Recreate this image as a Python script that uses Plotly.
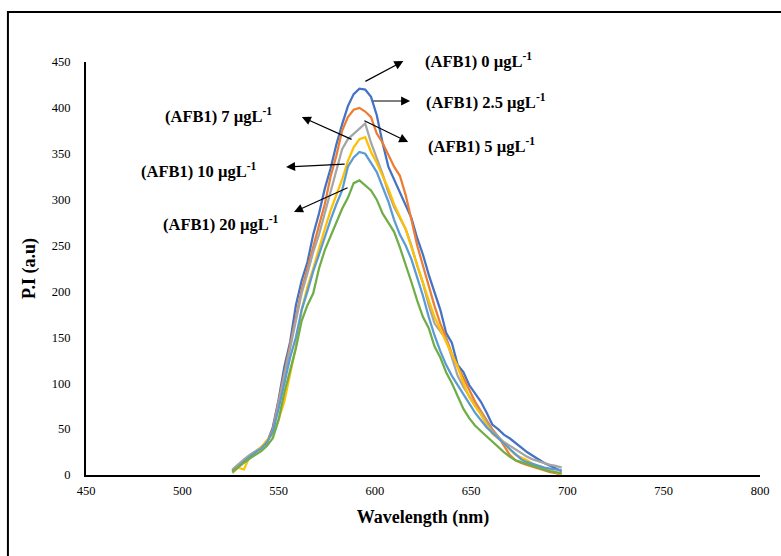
import plotly.graph_objects as go

wavelength = list(range(526, 698, 3))

pi_0 = [5, 11, 15, 20, 24, 29, 35, 52, 82, 118, 145, 185, 212, 232, 262, 285, 312, 334, 360, 382, 402, 415, 421, 420, 412, 392,
        362, 336, 322, 308, 295, 280, 258, 240, 218, 200, 180, 155, 144, 120, 112, 98, 89, 80, 68, 55, 50, 44, 40, 35, 29, 25,
        21, 17, 13, 10, 7, 4]
pi_2_5 = [4, 10, 16, 21, 25, 30, 36, 50, 80, 112, 140, 172, 202, 225, 250, 272, 295, 325, 348, 375, 390, 398, 400, 396, 390, 372,
          362, 348, 336, 326, 305, 278, 250, 228, 205, 184, 165, 150, 132, 118, 106, 92, 80, 70, 60, 50, 42, 32, 22, 16, 13, 11,
          9, 7, 5, 3, 2, 0]
pi_5 = [6, 12, 17, 22, 26, 30, 36, 48, 78, 108, 136, 168, 198, 220, 243, 262, 285, 310, 332, 355, 366, 372, 378, 383, 362, 345,
        328, 308, 292, 280, 268, 250, 228, 209, 185, 165, 156, 148, 128, 108, 96, 86, 76, 68, 58, 48, 42, 36, 32, 28, 24, 20,
        17, 15, 13, 11, 10, 8]
pi_7 = [2, 8, 6, 20, 25, 30, 38, 44, 60, 80, 110, 140, 180, 205, 225, 248, 268, 288, 305, 322, 342, 357, 366, 368, 352, 340,
        326, 312, 295, 282, 268, 248, 228, 210, 190, 172, 158, 145, 130, 118, 100, 85, 75, 66, 55, 45, 40, 35, 28, 22, 19, 16,
        12, 9, 7, 5, 3, 1]
pi_10 = [3, 9, 14, 20, 25, 29, 36, 47, 72, 100, 128, 150, 180, 200, 222, 240, 260, 278, 295, 310, 336, 346, 352, 350, 340, 330,
         314, 298, 278, 262, 250, 235, 215, 195, 172, 152, 135, 120, 108, 98, 88, 78, 68, 60, 52, 46, 40, 34, 28, 22, 17, 14,
         12, 10, 8, 7, 6, 5]
pi_20 = [4, 9, 13, 18, 22, 26, 32, 40, 60, 90, 114, 138, 168, 185, 198, 225, 245, 260, 274, 290, 302, 318, 321, 316, 310, 300,
         285, 275, 265, 248, 230, 210, 190, 172, 160, 140, 128, 112, 100, 85, 72, 62, 54, 48, 42, 36, 30, 25, 20, 16, 14, 12,
         10, 8, 6, 4, 3, 2]

series_names = ["(AFB1) 0 µgL-1", "(AFB1) 2.5 µgL-1", "(AFB1) 5 µgL-1",
                "(AFB1) 7 µgL-1", "(AFB1) 10 µgL-1", "(AFB1) 20 µgL-1"]
series_values = [pi_0, pi_2_5, pi_5, pi_7, pi_10, pi_20]
series_colors = ["#4472C4", "#ED7D31", "#A5A5A5", "#FFC000", "#5B9BD5", "#70AD47"]

label_texts = ["(AFB1) 0 µgL<sup>-1</sup>", "(AFB1) 2.5 µgL<sup>-1</sup>", "(AFB1) 5 µgL<sup>-1</sup>",
               "(AFB1) 7 µgL<sup>-1</sup>", "(AFB1) 10 µgL<sup>-1</sup>", "(AFB1) 20 µgL<sup>-1</sup>"]
label_x = [625.0, 625.5, 626.5, 489.9, 477.5, 488.9]
label_y = [452, 407.5, 359.5, 392, 332, 274.5]
arrow_tail_x = [594.3, 598.4, 593.8, 588.7, 585.1, 586.6]
arrow_tail_y = [428, 407.5, 386.8, 365, 338.9, 313.8]
arrow_head_x = [614.8, 618.3, 617.3, 562.1, 553.9, 558.0]
arrow_head_y = [451, 407.5, 362.8, 390, 335.6, 286.6]

x_ticks = [450, 500, 550, 600, 650, 700, 750, 800]
y_ticks = [0, 50, 100, 150, 200, 250, 300, 350, 400, 450]
X_RANGE = [450, 800]
Y_RANGE = [0, 450]

FONT = "Liberation Serif"

fig = go.Figure()
for name, vals, col in zip(series_names, series_values, series_colors):
    fig.add_trace(go.Scatter(x=wavelength, y=vals, mode="lines", name=name,
                             line=dict(color=col, width=2.25), showlegend=False))

annotations = []
for t, lx, ly in zip(label_texts, label_x, label_y):
    annotations.append(dict(x=(lx - X_RANGE[0]) / (X_RANGE[1] - X_RANGE[0]),
                            y=(ly - Y_RANGE[0]) / (Y_RANGE[1] - Y_RANGE[0]),
                            xref="paper", yref="paper", text="<b>" + t + "</b>", showarrow=False,
                            xanchor="left", yanchor="middle",
                            font=dict(family=FONT, size=16.5, color="#000000")))
for tx, ty, hx, hy in zip(arrow_tail_x, arrow_tail_y, arrow_head_x, arrow_head_y):
    annotations.append(dict(x=hx, y=hy, ax=tx, ay=ty, xref="x", yref="y", axref="x", ayref="y",
                            text="", showarrow=True, arrowhead=2, arrowsize=1.5, arrowwidth=1.2,
                            arrowcolor="#000000"))

fig.update_layout(
    width=781, height=556,
    margin=dict(l=86, r=13, t=62, b=81),
    paper_bgcolor="white", plot_bgcolor="white",
    font=dict(family=FONT, color="#000000"),
    annotations=annotations,
    shapes=[dict(type="rect", xref="paper", yref="paper",
                 x0=(7 - 86) / 682, x1=(795 - 86) / 682,
                 y0=(475 - 570) / 413, y1=(475 - 12) / 413,
                 line=dict(color="#000000", width=2), fillcolor="rgba(0,0,0,0)", layer="below")],
)
fig.update_xaxes(range=X_RANGE, tickvals=x_ticks, showgrid=False, zeroline=False,
                 showline=True, linecolor="#000000", linewidth=2, ticks="",
                 ticklabelstandoff=3,
                 tickfont=dict(family=FONT, size=12.5, color="#000000"),
                 title=dict(text="<b>Wavelength (nm)</b>", standoff=13,
                            font=dict(family=FONT, size=18, color="#000000")))
fig.update_yaxes(range=Y_RANGE, tickvals=y_ticks, showgrid=False, zeroline=False,
                 showline=True, linecolor="#000000", linewidth=2, ticks="",
                 ticklabelstandoff=11,
                 tickfont=dict(family=FONT, size=12.5, color="#000000"),
                 title=dict(text="<b>P.I (a.u)</b>", standoff=11,
                            font=dict(family=FONT, size=18, color="#000000")))

fig.write_html("out.html", config={"displayModeBar": False},
               post_script="document.body.style.margin='0';")
